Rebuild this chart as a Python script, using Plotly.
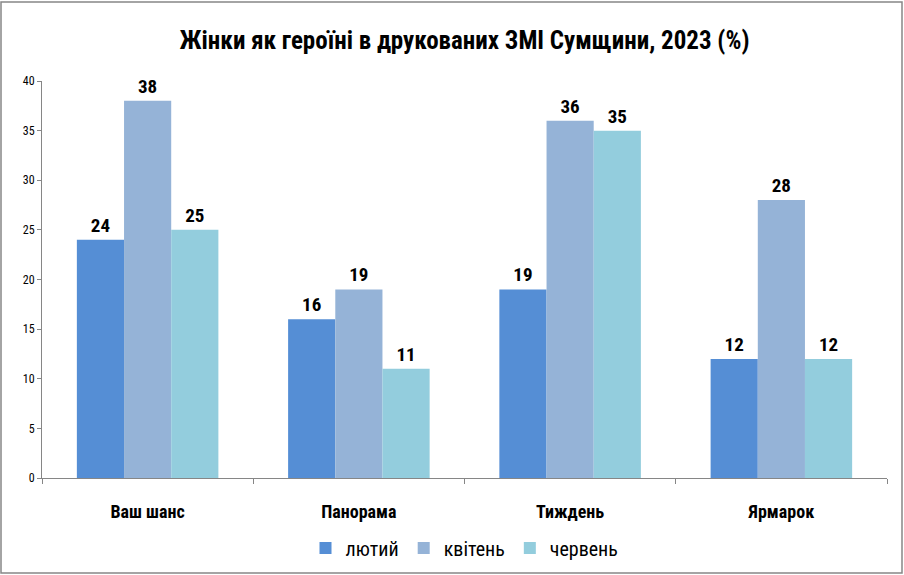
import plotly.graph_objects as go

categories = ["Ваш шанс", "Панорама", "Тиждень", "Ярмарок"]
series_names = ["лютий", "квітень", "червень"]
feb = [24, 16, 19, 12]
apr = [38, 19, 36, 28]
jun = [25, 11, 35, 12]
colors = ["#558ED5", "#95B3D7", "#93CDDD"]

W, H = 904, 575
ml, mr, mt, mb = 42, 17, 81, 97
FONT = "Liberation Sans Narrow, Roboto Condensed, Arial Narrow, Noto Sans"

fig = go.Figure()
for name, vals, c in zip(series_names, [feb, apr, jun], colors):
    fig.add_trace(go.Bar(
        x=categories, y=vals, name=name, marker=dict(color=c, line=dict(width=0)),
        text=["<b>%d</b>" % v for v in vals], textposition="outside",
        textfont=dict(family=FONT, size=19, color="#000000"),
        cliponaxis=False,
    ))

pw = W - ml - mr
ph = H - mt - mb
fig.add_shape(type="rect", xref="paper", yref="paper",
              x0=(1 - ml) / pw, x1=(W - 2 - ml) / pw,
              y0=-(mb - 2) / ph, y1=1 + (mt - 2) / ph,
              line=dict(color="#868686", width=1.5), fillcolor="rgba(0,0,0,0)")

fig.update_layout(
    width=W, height=H,
    margin=dict(l=ml, r=mr, t=mt, b=mb, autoexpand=False),
    paper_bgcolor="white", plot_bgcolor="white",
    barmode="group", bargap=0.33, bargroupgap=0,
    title=dict(text="<b>Жінки як героїні в друкованих ЗМІ Сумщини, 2023 (%)</b>",
               x=0.5, xref="paper", y=1 - 40 / H, yanchor="middle",
               font=dict(family=FONT, size=25, color="#000000")),
    font=dict(family=FONT, color="#000000"),
    legend=dict(orientation="h", x=0.5, xanchor="center", xref="paper",
                yref="container", y=1 - 548 / H, yanchor="middle",
                font=dict(family=FONT, size=20, color="#000000"),
                itemwidth=30, traceorder="normal"),
    xaxis=dict(showline=True, linecolor="#868686", linewidth=1,
               ticks="outside", tickson="boundaries", ticklen=5, tickcolor="#868686",
               tickfont=dict(family=FONT, size=18, color="#000000"),
               ticklabelstandoff=17, showgrid=False, zeroline=False, automargin=False),
    yaxis=dict(range=[0, 40], dtick=5, showline=True, linecolor="#868686", linewidth=1,
               ticks="outside", ticklen=4, tickcolor="#868686",
               tickfont=dict(family=FONT, size=12, color="#000000"),
               showgrid=False, zeroline=False, automargin=False),
)
fig.for_each_xaxis(lambda a: a.update(tickprefix="<b>", ticksuffix="</b>"))

fig.write_html("out.html")
